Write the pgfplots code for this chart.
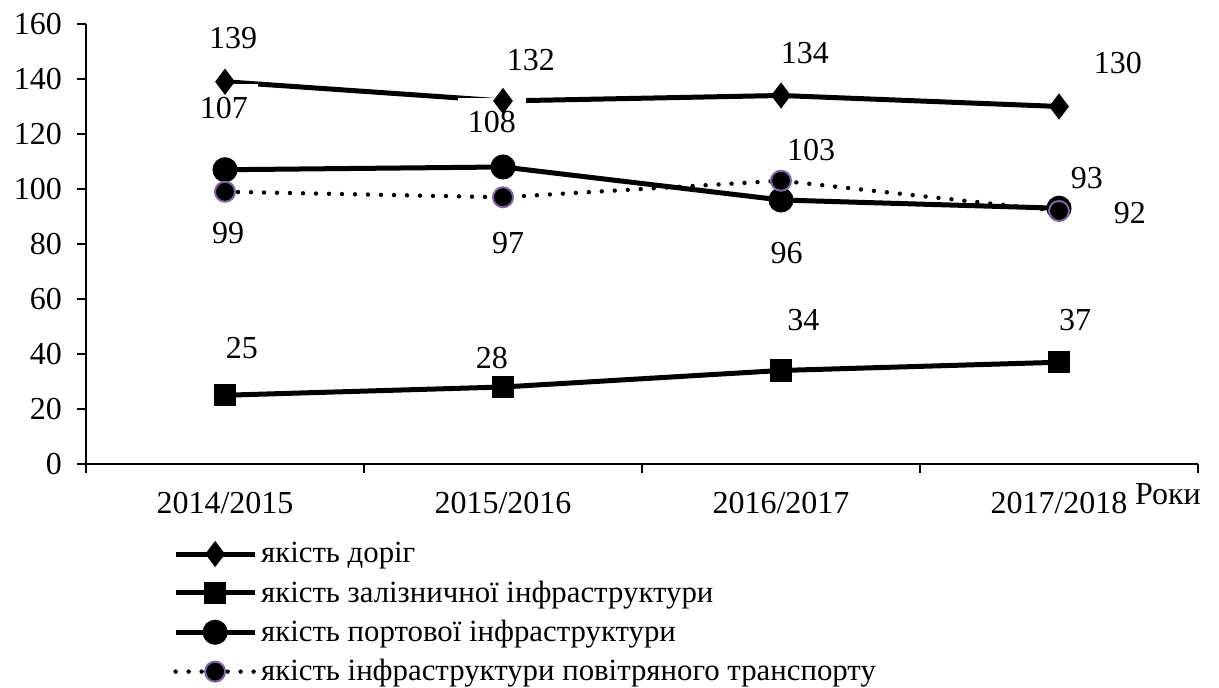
\documentclass[border=0pt]{standalone}
\usepackage{fontspec}
\setmainfont{Liberation Serif}
\usepackage{pgfplots}
\pgfplotsset{compat=1.18}
\definecolor{airpurple}{RGB}{128,100,162}
\newcommand{\myfont}{\fontsize{16pt}{19pt}\selectfont}
\newcommand{\legfont}{\fontsize{15.4pt}{17pt}\selectfont}
\begin{document}
\begin{tikzpicture}[font=\myfont]
\path (0,0) rectangle (609.5pt,344pt);
\begin{axis}[
  at={(43pt,112pt)}, anchor=south west, scale only axis,
  width=556pt, height=220pt,
  font=\myfont,
  xmin=-0.5, xmax=3.5, ymin=0, ymax=160,
  ytick={0,20,...,160},
  xtick={0,1,2,3},
  xticklabels={2014/2015,2015/2016,2016/2017,2017/2018},
  major x tick style={draw=none},
  minor xtick={-0.5,0.5,1.5,2.5,3.5},
  tick align=outside, major tick length=4.5pt, minor tick length=4.5pt,
  axis lines*=left,
  tick style={black, line width=0.6pt},
  axis line style={black, line width=0.6pt},
  /pgf/number format/assume math mode=true,
  tick label style={font=\myfont},
  xticklabel style={yshift=-6pt},
  yticklabel style={xshift=-4pt},
  clip=false,
  legend style={at={(0.078,-0.168)}, anchor=north west, draw=none, fill=none,
    inner sep=0pt, row sep=3.5pt, font=\legfont,
    cells={anchor=west}},
  legend cell align=left,
  legend image code/.code={\draw[mark repeat=2,mark phase=2,#1] plot coordinates {(0pt,0pt)(19.75pt,0pt)(39.5pt,0pt)};},
]
\addplot[black, line width=2.5pt, mark=diamond*, mark size=4.5pt, mark options={solid}]
  coordinates {(0,139)(1,132)(2,134)(3,130)};
\addplot[black, line width=2.5pt, mark=square*, mark size=4.3pt, mark options={solid}]
  coordinates {(0,25)(1,28)(2,34)(3,37)};
\addplot[black, line width=2.5pt, mark=*, mark size=5pt, mark options={solid}]
  coordinates {(0,107)(1,108)(2,96)(3,93)};
\addplot[black, line width=2.2pt, line cap=round, dash pattern=on 0pt off 6.5pt, mark=*, mark size=5pt,
  mark options={solid, fill=black, draw=airpurple, line width=1pt}]
  coordinates {(0,99)(1,97)(2,103)(3,92)};
\legend{якість доріг, якість залізничної інфраструктури, якість портової інфраструктури, якість інфраструктури повітряного транспорту}
\node at (axis cs:0.029,154.9) {139};
\node at (axis cs:1.10,146.9) {132};
\node at (axis cs:2.086,149.5) {134};
\node at (axis cs:3.212,145.8) {130};
\node[fill=white, inner sep=0pt, minimum width=34pt, minimum height=24pt] at (axis cs:-0.004,129.5) {107};
\node[fill=white, inner sep=0pt, minimum width=34pt, minimum height=24pt] at (axis cs:0.96,124.4) {108};
\node at (axis cs:2.108,114.2) {103};
\node at (axis cs:3.10,104) {93};
\node at (axis cs:0.011,84) {99};
\node at (axis cs:1.018,80.4) {97};
\node at (axis cs:2.02,76.7) {96};
\node at (axis cs:3.255,91.3) {92};
\node at (axis cs:0.061,42.2) {25};
\node at (axis cs:0.96,38.5) {28};
\node at (axis cs:2.08,52.4) {34};
\node at (axis cs:3.058,52.4) {37};
\node at (rel axis cs:0.973,0) [yshift=-15pt] {Роки};
\end{axis}
\end{tikzpicture}
\end{document}
